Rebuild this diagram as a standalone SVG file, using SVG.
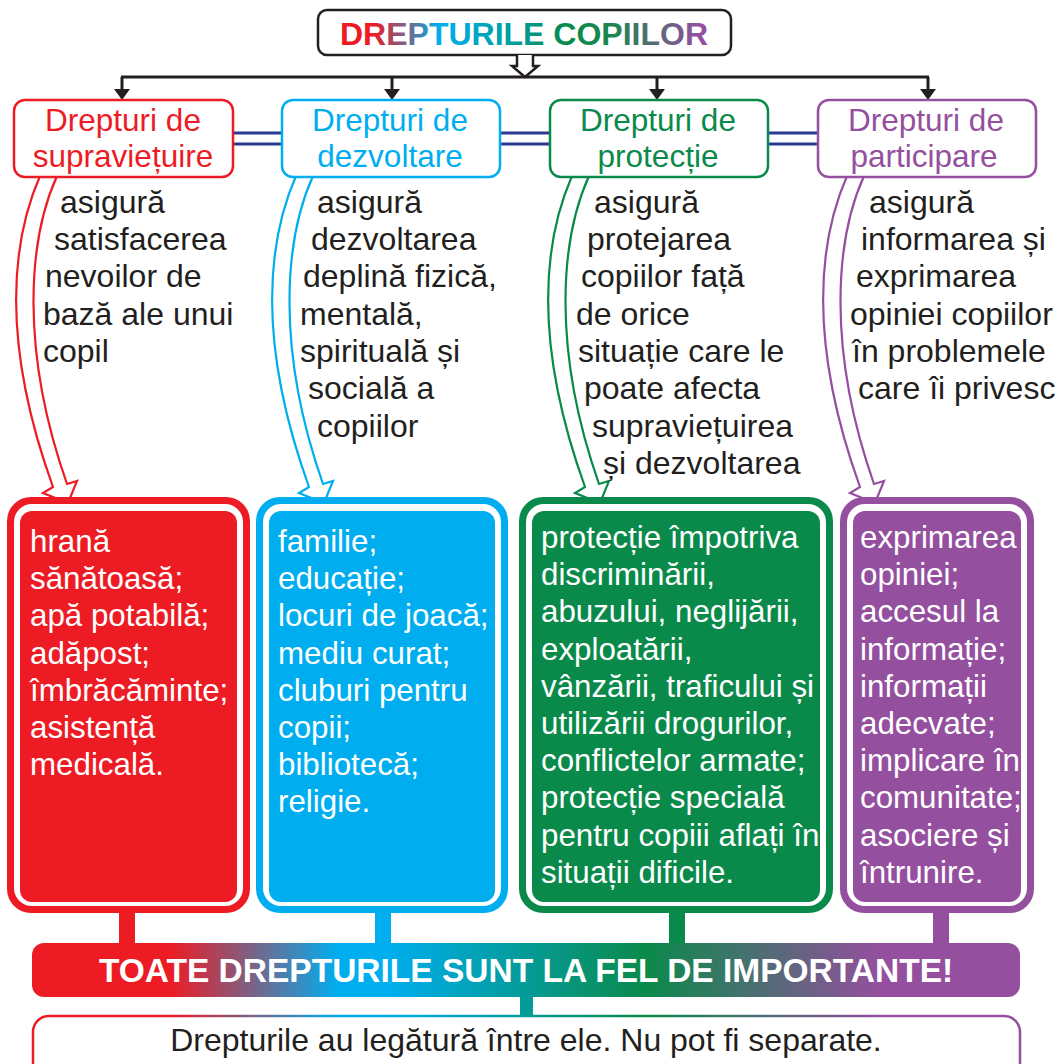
<svg xmlns="http://www.w3.org/2000/svg" xmlns:xlink="http://www.w3.org/1999/xlink" width="1058" height="1064" viewBox="0 0 1058 1064">
<defs>
<style>
text{font-family:"Liberation Sans",Arial,sans-serif}
.cat{font-size:31.5px;text-anchor:middle}
.desc{font-size:32px;fill:#231F20}
.wt{font-size:31.3px;fill:#fff}
.catbox{fill:#fff;stroke-width:2.5}
.dbl{stroke:#2B3990;stroke-width:3;fill:none}
.blk{stroke:#231F20;stroke-width:3;fill:none}
.curve{fill:#fff;stroke-width:2.2;stroke-linejoin:miter}
</style>
<linearGradient id="titleGrad" gradientUnits="userSpaceOnUse" x1="340" y1="0" x2="708" y2="0">
<stop offset="0" stop-color="#ED1C24"/>
<stop offset="0.09" stop-color="#ED1C24"/>
<stop offset="0.27" stop-color="#00AEEF"/>
<stop offset="0.45" stop-color="#00A0A8"/>
<stop offset="0.62" stop-color="#0A8A4A"/>
<stop offset="0.74" stop-color="#1E8550"/>
<stop offset="0.98" stop-color="#954F9F"/>
</linearGradient>
<linearGradient id="barGrad" gradientUnits="userSpaceOnUse" x1="32" y1="0" x2="1020" y2="0">
<stop offset="0" stop-color="#ED1C24"/>
<stop offset="0.14" stop-color="#ED1C24"/>
<stop offset="0.31" stop-color="#00AEEF"/>
<stop offset="0.36" stop-color="#00AEEF"/>
<stop offset="0.62" stop-color="#0A8A4A"/>
<stop offset="0.86" stop-color="#954F9F"/>
<stop offset="1" stop-color="#954F9F"/>
</linearGradient>
<marker id="ah" viewBox="0 0 11 16" refX="0" refY="8" markerWidth="11" markerHeight="16" markerUnits="userSpaceOnUse" orient="auto">
<path d="M0,0 L11,8 L0,16 z" fill="#231F20"/>
</marker>
<path id="curveArrow" d="M40 176 C12 240, 0 340, 53 487 L43 493 L68 503 L77 481 L67 484 C20 350, 28 240, 57 176"/>
</defs>

<g id="title">
<rect x="318" y="10" width="413" height="45" rx="9" fill="#fff" stroke="#231F20" stroke-width="2.5"/>
<text x="524" y="45" text-anchor="middle" font-size="32" font-weight="bold" fill="url(#titleGrad)">DREPTURILE COPIILOR</text>
</g>

<g id="connectors">
<path d="M517 55 V66 H512 L525 77 L538 66 H533 V55" fill="#fff" stroke="#231F20" stroke-width="2.5" stroke-linejoin="miter"/>
<line class="blk" x1="121" y1="77" x2="929" y2="77"/>
<line class="blk" x1="122" y1="77" x2="122" y2="89" marker-end="url(#ah)"/>
<line class="blk" x1="392" y1="77" x2="392" y2="89" marker-end="url(#ah)"/>
<line class="blk" x1="657" y1="77" x2="657" y2="89" marker-end="url(#ah)"/>
<line class="blk" x1="928" y1="77" x2="928" y2="89" marker-end="url(#ah)"/>
<path class="dbl" d="M233 133 H282 M233 144 H282 M500 133 H550 M500 144 H550 M768 133 H818 M768 144 H818"/>
<use xlink:href="#curveArrow" class="curve" stroke="#ED1C24"/>
<use xlink:href="#curveArrow" class="curve" stroke="#00AEEF" transform="translate(256,0)"/>
<use xlink:href="#curveArrow" class="curve" stroke="#0A8A4A" transform="translate(532,0)"/>
<use xlink:href="#curveArrow" class="curve" stroke="#954F9F" transform="translate(807,0)"/>
<rect x="119" y="911" width="16" height="34" fill="#ED1C24"/>
<rect x="375" y="911" width="16" height="34" fill="#00AEEF"/>
<rect x="669" y="911" width="16" height="34" fill="#0A8A4A"/>
<rect x="933" y="911" width="16" height="34" fill="#954F9F"/>
<rect x="520" y="995" width="13" height="22" fill="#049C96"/>
</g>

<g id="cat-supravietuire">
<rect class="catbox" x="14" y="100" width="219" height="77" rx="11" stroke="#ED1C24"/>
<text class="cat" x="123" y="131" fill="#ED1C24">Drepturi de</text>
<text class="cat" x="123" y="167" fill="#ED1C24">supraviețuire</text>
</g>
<g id="cat-dezvoltare">
<rect class="catbox" x="282" y="100" width="218" height="77" rx="11" stroke="#00AEEF"/>
<text class="cat" x="390" y="131" fill="#00AEEF">Drepturi de</text>
<text class="cat" x="390" y="167" fill="#00AEEF">dezvoltare</text>
</g>
<g id="cat-protectie">
<rect class="catbox" x="550" y="100" width="218" height="77" rx="11" stroke="#0A8A4A"/>
<text class="cat" x="658" y="131" fill="#0A8A4A">Drepturi de</text>
<text class="cat" x="658" y="167" fill="#0A8A4A">protecție</text>
</g>
<g id="cat-participare">
<rect class="catbox" x="818" y="100" width="218" height="77" rx="11" stroke="#954F9F"/>
<text class="cat" x="926" y="131" fill="#954F9F">Drepturi de</text>
<text class="cat" x="924" y="167" fill="#954F9F">participare</text>
</g>

<g id="desc-supravietuire">
<text class="desc"><tspan x="60" y="213">asigură</tspan><tspan x="54" y="250">satisfacerea</tspan><tspan x="45" y="287">nevoilor de</tspan><tspan x="43" y="325">bază ale unui</tspan><tspan x="43" y="362">copil</tspan></text>
</g>
<g id="desc-dezvoltare">
<text class="desc"><tspan x="317" y="213">asigură</tspan><tspan x="311" y="250">dezvoltarea</tspan><tspan x="303" y="287">deplină fizică,</tspan><tspan x="300" y="325">mentală,</tspan><tspan x="300" y="362">spirituală și</tspan><tspan x="308" y="399">socială a</tspan><tspan x="317" y="437">copiilor</tspan></text>
</g>
<g id="desc-protectie">
<text class="desc"><tspan x="594" y="213">asigură</tspan><tspan x="587" y="250">protejarea</tspan><tspan x="581" y="287">copiilor față</tspan><tspan x="576" y="325">de orice</tspan><tspan x="578" y="362">situație care le</tspan><tspan x="584" y="399">poate afecta</tspan><tspan x="592" y="437">supraviețuirea</tspan><tspan x="603" y="474">și dezvoltarea</tspan></text>
</g>
<g id="desc-participare">
<text class="desc"><tspan x="869" y="213">asigură</tspan><tspan x="861" y="250">informarea și</tspan><tspan x="856" y="287">exprimarea</tspan><tspan x="850" y="325">opiniei copiilor</tspan><tspan x="852" y="362">în problemele</tspan><tspan x="858" y="399">care îi privesc</tspan></text>
</g>

<g id="box-supravietuire">
<rect x="7" y="497" width="243" height="416" rx="24" fill="#ED1C24"/>
<rect x="14" y="504" width="229" height="402" rx="18" fill="#fff"/>
<rect x="20" y="511" width="217" height="391" rx="12" fill="#ED1C24"/>
<text class="wt"><tspan x="30" y="552">hrană</tspan><tspan x="30" y="589">sănătoasă;</tspan><tspan x="30" y="626">apă potabilă;</tspan><tspan x="30" y="664">adăpost;</tspan><tspan x="30" y="701">îmbrăcăminte;</tspan><tspan x="30" y="738">asistență</tspan><tspan x="30" y="775">medicală.</tspan></text>
</g>
<g id="box-dezvoltare">
<rect x="256" y="497" width="252" height="416" rx="24" fill="#00AEEF"/>
<rect x="263" y="504" width="238" height="402" rx="18" fill="#fff"/>
<rect x="269" y="511" width="226" height="391" rx="12" fill="#00AEEF"/>
<text class="wt"><tspan x="278" y="552">familie;</tspan><tspan x="278" y="589">educație;</tspan><tspan x="278" y="626">locuri de joacă;</tspan><tspan x="278" y="664">mediu curat;</tspan><tspan x="278" y="701">cluburi pentru</tspan><tspan x="278" y="738">copii;</tspan><tspan x="278" y="775">bibliotecă;</tspan><tspan x="278" y="812">religie.</tspan></text>
</g>
<g id="box-protectie">
<rect x="519" y="497" width="314" height="416" rx="24" fill="#0A8A4A"/>
<rect x="526" y="504" width="300" height="402" rx="18" fill="#fff"/>
<rect x="532" y="511" width="288" height="391" rx="12" fill="#0A8A4A"/>
<text class="wt"><tspan x="541" y="548">protecție împotriva</tspan><tspan x="541" y="585">discriminării,</tspan><tspan x="541" y="622">abuzului, neglijării,</tspan><tspan x="541" y="660">exploatării,</tspan><tspan x="541" y="697">vânzării, traficului și</tspan><tspan x="541" y="734">utilizării drogurilor,</tspan><tspan x="541" y="771">conflictelor armate;</tspan><tspan x="541" y="808">protecție specială</tspan><tspan x="541" y="846">pentru copiii aflați în</tspan><tspan x="541" y="883">situații dificile.</tspan></text>
</g>
<g id="box-participare">
<rect x="840" y="497" width="194" height="416" rx="24" fill="#954F9F"/>
<rect x="847" y="504" width="180" height="402" rx="18" fill="#fff"/>
<rect x="853" y="511" width="168" height="391" rx="12" fill="#954F9F"/>
<text class="wt"><tspan x="860" y="548">exprimarea</tspan><tspan x="860" y="585">opiniei;</tspan><tspan x="860" y="622">accesul la</tspan><tspan x="860" y="660">informație;</tspan><tspan x="860" y="697">informații</tspan><tspan x="860" y="734">adecvate;</tspan><tspan x="860" y="771">implicare în</tspan><tspan x="860" y="808">comunitate;</tspan><tspan x="860" y="846">asociere și</tspan><tspan x="860" y="883">întrunire.</tspan></text>
</g>

<g id="bar">
<rect x="32" y="943" width="988" height="54" rx="12" fill="url(#barGrad)"/>
<text x="526" y="982" text-anchor="middle" font-size="33.5" font-weight="bold" fill="#fff">TOATE DREPTURILE SUNT LA FEL DE IMPORTANTE!</text>
</g>
<g id="note">
<rect x="33" y="1016" width="987" height="70" rx="16" fill="#fff" stroke="url(#barGrad)" stroke-width="2.5"/>
<text x="526" y="1051" text-anchor="middle" font-size="32" fill="#231F20">Drepturile au legătură între ele. Nu pot fi separate.</text>
</g>
</svg>
